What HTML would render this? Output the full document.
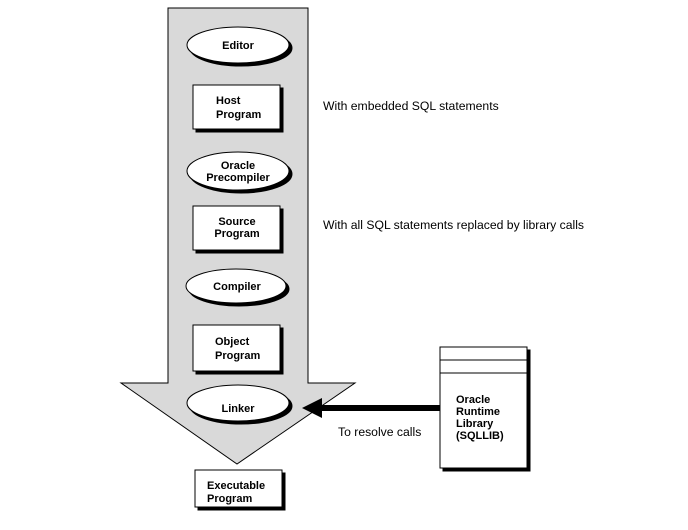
<!DOCTYPE html>
<html><head><style>
body{margin:0;background:#fff;width:688px;height:525px;overflow:hidden}
svg text{font-family:"Liberation Sans",Arial,sans-serif;font-size:11px}
svg text.p{font-size:12.2px}
</style></head><body>
<svg width="688" height="525" viewBox="0 0 688 525">
<polygon points="168,8 308,8 308,383 355,383 237,464 121,383 168,383" fill="#d9d9d9" stroke="#000" stroke-width="1"/>
<g stroke="#000" stroke-width="1">
<ellipse cx="241" cy="48" rx="51" ry="18" fill="#000"/>
<ellipse cx="238" cy="45" rx="51" ry="18" fill="#fff"/>
<rect x="196" y="88" width="87" height="44" fill="#000"/>
<rect x="193" y="85" width="87" height="44" fill="#fff"/>
<ellipse cx="241" cy="174" rx="51" ry="19" fill="#000"/>
<ellipse cx="238" cy="171" rx="51" ry="19" fill="#fff"/>
<rect x="196" y="209" width="87" height="44" fill="#000"/>
<rect x="193" y="206" width="87" height="44" fill="#fff"/>
<ellipse cx="239" cy="289" rx="50" ry="17" fill="#000"/>
<ellipse cx="236" cy="286" rx="50" ry="17" fill="#fff"/>
<rect x="196" y="328" width="87" height="46" fill="#000"/>
<rect x="193" y="325" width="87" height="46" fill="#fff"/>
<ellipse cx="241" cy="406" rx="51" ry="18" fill="#000"/>
<ellipse cx="238" cy="403" rx="51" ry="18" fill="#fff"/>
<rect x="198" y="473" width="87" height="37" fill="#000"/>
<rect x="195" y="470" width="87" height="37" fill="#fff"/>
<rect x="443" y="350" width="87" height="121" fill="#000"/>
<rect x="440" y="347" width="87" height="121" fill="#fff"/>
<line x1="440" y1="360" x2="527" y2="360"/>
<line x1="440" y1="373" x2="527" y2="373"/>
</g>
<rect x="318" y="405" width="122" height="6" fill="#000"/>
<polygon points="302,408 322,398 322,418" fill="#000"/>
<g font-weight="bold">
<text x="238" y="49" text-anchor="middle">Editor</text>
<text x="216" y="104">Host</text>
<text x="216" y="118">Program</text>
<text x="238" y="169" text-anchor="middle">Oracle</text>
<text x="238" y="181" text-anchor="middle">Precompiler</text>
<text x="237" y="225" text-anchor="middle">Source</text>
<text x="237" y="237" text-anchor="middle">Program</text>
<text x="237" y="290" text-anchor="middle">Compiler</text>
<text x="215" y="345">Object</text>
<text x="215" y="359">Program</text>
<text x="238" y="412" text-anchor="middle">Linker</text>
<text x="207" y="489">Executable</text>
<text x="207" y="502">Program</text>
<text x="456" y="403">Oracle</text>
<text x="456" y="415">Runtime</text>
<text x="456" y="427">Library</text>
<text x="456" y="439">(SQLLIB)</text>
</g>
<text class="p" x="323" y="110">With embedded SQL statements</text>
<text class="p" x="323" y="229">With all SQL statements replaced by library calls</text>
<text class="p" x="338" y="436">To resolve calls</text>
</svg>
</body></html>
